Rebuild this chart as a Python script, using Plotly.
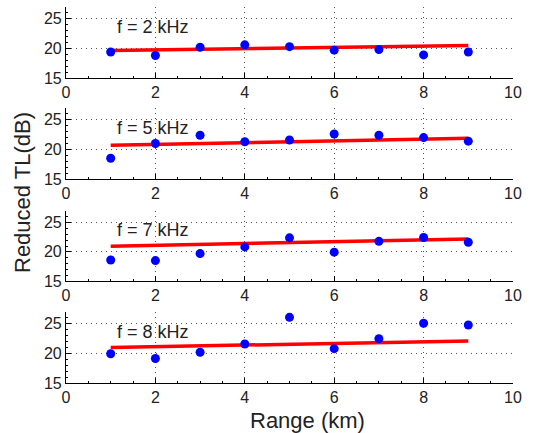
import plotly.graph_objects as go

range_km = [1, 2, 3, 4, 5, 6, 7, 8, 9]
freq_labels = ["f = 2 kHz", "f = 5 kHz", "f = 7 kHz", "f = 8 kHz"]
tl_2k = [19.4, 18.8, 20.2, 20.6, 20.3, 19.7, 19.8, 18.9, 19.4]
tl_5k = [18.5, 21.0, 22.4, 21.3, 21.6, 22.6, 22.4, 22.0, 21.4]
tl_7k = [18.6, 18.5, 19.7, 20.85, 22.4, 19.95, 21.8, 22.45, 21.65]
tl_8k = [19.95, 19.15, 20.2, 21.6, 26.1, 20.8, 22.5, 25.1, 24.8]
series = [tl_2k, tl_5k, tl_7k, tl_8k]
fit_x = [1, 9]
fit_2k = [19.65, 20.5]
fit_5k = [20.7, 21.9]
fit_7k = [20.95, 22.2]
fit_8k = [21.0, 22.1]
fits = [fit_2k, fit_5k, fit_7k, fit_8k]
x_ticks = [0, 2, 4, 6, 8, 10]
y_ticks = [15, 20, 25]

W, H = 558, 433
ml, mr, mt, mb = 66, 45, 7, 50
ph = H - mt - mb
# pixel rows (top, bottom) of each panel
rows_px = [(7, 78), (108, 179), (211, 281), (312, 383)]

fig = go.Figure()
font = "Liberation Sans, Arial, Helvetica, sans-serif"

for i in range(4):
    top, bot = rows_px[i]
    d0 = (H - mb - bot) / ph
    d1 = (H - mb - top) / ph
    xa = "x" if i == 0 else f"x{i+1}"
    ya = "y" if i == 0 else f"y{i+1}"
    xk = "xaxis" if i == 0 else f"xaxis{i+1}"
    yk = "yaxis" if i == 0 else f"yaxis{i+1}"
    fig.add_trace(go.Scatter(x=fit_x, y=fits[i], mode="lines",
                             line=dict(color="#ff0000", width=3.5),
                             xaxis=xa, yaxis=ya, showlegend=False))
    fig.add_trace(go.Scatter(x=range_km, y=series[i], mode="markers",
                             marker=dict(color="#0000ff", size=9),
                             xaxis=xa, yaxis=ya, showlegend=False))
    common = dict(showline=True, linecolor="black", linewidth=1.2,
                  ticks="inside", ticklen=5, tickcolor="black",
                  showgrid=True, gridcolor="#555555", griddash="1px,4px", gridwidth=1,
                  zeroline=False, automargin=False,
                  tickfont=dict(family=font, size=16, color="#222222"))
    fig.layout[xk] = dict(domain=[0, 1], range=[0, 10], tickvals=x_ticks,
                          anchor=ya,
                          minor=dict(ticks="inside", ticklen=2, dtick=0.5,
                                     tickcolor="black", showgrid=False),
                          **common)
    fig.layout[yk] = dict(domain=[d0, d1], range=[15, 27], tickvals=y_ticks,
                          anchor=xa,
                          minor=dict(ticks="inside", ticklen=2, dtick=1,
                                     tickcolor="black", showgrid=False),
                          **common)
    fig.add_annotation(x=1.1, y=23.7, xref=xa, yref=ya, text=freq_labels[i],
                       showarrow=False, xanchor="left", yanchor="middle",
                       font=dict(family=font, size=18, color="#222222"))

fig.add_annotation(x=307, y=H - 420, xref="paper", yref="paper", text="Range (km)",
                   showarrow=False, xanchor="center", yanchor="middle",
                   font=dict(family=font, size=22, color="#222222"))
fig.add_annotation(x=22, y=H - 193, xref="paper", yref="paper", text="Reduced TL(dB)",
                   showarrow=False, textangle=-90, xanchor="center", yanchor="middle",
                   font=dict(family=font, size=22, color="#222222"))
# convert pixel positions of labels to paper coordinates
for a in fig.layout.annotations[-2:]:
    a.x = (a.x - ml) / (W - ml - mr)
    a.y = (a.y - mb) / ph

fig.update_layout(width=W, height=H, margin=dict(l=ml, r=mr, t=mt, b=mb),
                  plot_bgcolor="white", paper_bgcolor="white")
fig.write_html("out.html", config={"displayModeBar": False},
               post_script="document.body.style.margin='0';document.body.style.overflow='hidden';")
